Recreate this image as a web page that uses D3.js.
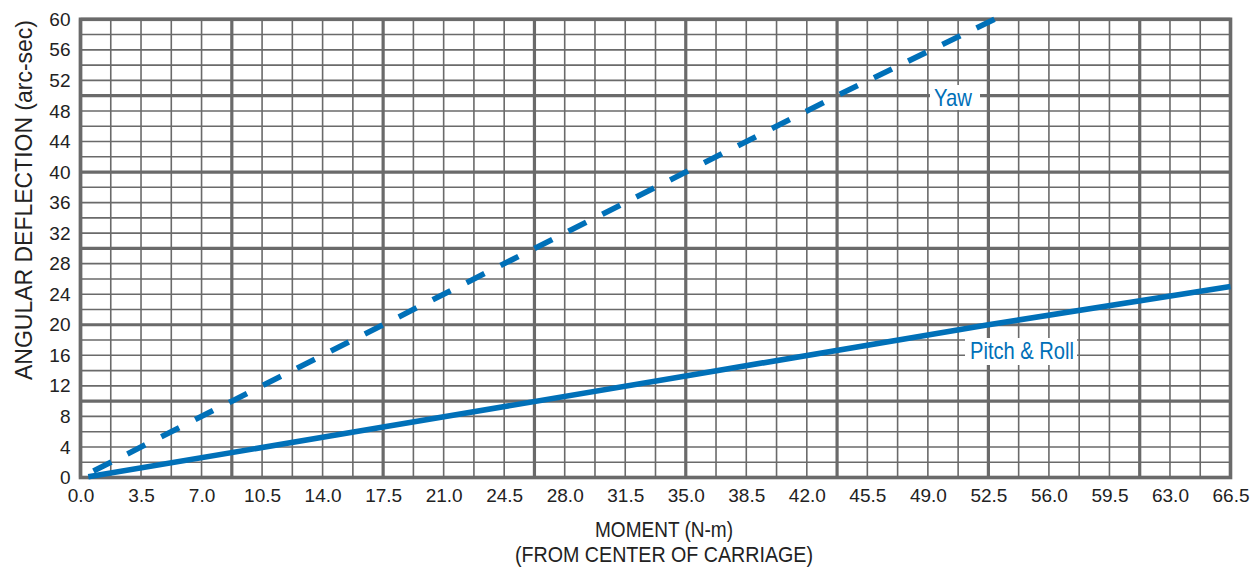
<!DOCTYPE html>
<html>
<head>
<meta charset="utf-8">
<script src="https://cdn.jsdelivr.net/npm/d3@7"></script>
<style>
  html, body { margin: 0; padding: 0; background: #fff; }
  svg { display: block; }
  .tick text { font-family: "Liberation Sans", Arial, sans-serif; font-size: 19px; fill: #222; }
  .narrow { font-family: "Liberation Sans Narrow", "Arial Narrow", "Liberation Sans", Arial, sans-serif; }
</style>
</head>
<body>
<script>
// ---- data ----
const xTickLabels = ["0.0","3.5","7.0","10.5","14.0","17.5","21.0","24.5","28.0","31.5","35.0","38.5","42.0","45.5","49.0","52.5","56.0","59.5","63.0","66.5"];
const yTickLabels = [0,4,8,12,16,20,24,28,32,36,40,44,48,52,56,60];
// moment (N-m)
const pitchRollX = [0.45, 17.5, 35.0, 52.5, 66.5];
// angular deflection (arc-sec)
const pitchRollY = [0.1, 6.6, 13.3, 20.0, 25.0];
const yawX = [0.75, 8.75, 17.5, 26.25, 35.0, 43.75, 53.2];
const yawY = [0.85, 10.0, 20.0, 30.0, 40.0, 50.0, 60.4];
const seriesNames = ["Pitch & Roll", "Yaw"];
const xTitle = ["MOMENT (N-m)", "(FROM CENTER OF CARRIAGE)"];
const yTitle = "ANGULAR DEFLECTION (arc-sec)";

(function () {
// ---- layout ----
const W = 1257, H = 577;
const pL = 80.5, pR = 1230.5, pT = 19.3, pB = 477.5;
const blue = "#0070b8";
const gridCol = "#6a6a6a";

const svg = d3.select("body").append("svg").attr("width", W).attr("height", H);

const x = d3.scaleLinear().domain([0, 66.5]).range([pL, pR]);
const y = d3.scaleLinear().domain([0, 60]).range([pB, pT]);

// grid
const g = svg.append("g");
const vLines = d3.range(0, 38 + 1).map(i => i * 1.75);
const hLines = d3.range(0, 30 + 1).map(i => i * 2);
g.selectAll("line.v").data(vLines).join("line").attr("class", "v")
  .attr("x1", d => x(d)).attr("x2", d => x(d))
  .attr("y1", pT).attr("y2", pB)
  .attr("stroke", gridCol)
  .attr("stroke-width", (d, i) => i % 5 === 0 ? 3.2 : 1.6);
g.selectAll("line.h").data(hLines).join("line").attr("class", "h")
  .attr("y1", d => y(d)).attr("y2", d => y(d))
  .attr("x1", pL).attr("x2", pR)
  .attr("stroke", gridCol)
  .attr("stroke-width", (d, i) => i % 5 === 0 ? 3.2 : 1.6);
g.append("rect")
  .attr("x", pL).attr("y", pT)
  .attr("width", pR - pL).attr("height", pB - pT)
  .attr("fill", "none").attr("stroke", gridCol).attr("stroke-width", 3.6);

// axes (labels only)
const xAxis = d3.axisBottom(x)
  .tickValues(xTickLabels.map(Number))
  .tickFormat((d, i) => xTickLabels[i])
  .tickSize(0).tickPadding(0);
svg.append("g").attr("transform", `translate(0,${pB + 11})`).call(xAxis)
  .call(s => s.select(".domain").remove())
  .selectAll("text").attr("dy", "0.71em");

const yAxis = d3.axisLeft(y)
  .tickValues(yTickLabels)
  .tickFormat(d3.format("d"))
  .tickSize(0).tickPadding(0);
svg.append("g").attr("transform", `translate(${pL - 10},0)`).call(yAxis)
  .call(s => s.select(".domain").remove());

// label backgrounds
svg.append("rect").attr("x", 930).attr("y", 85).attr("width", 50).attr("height", 25).attr("fill", "#fff");
svg.append("rect").attr("x", 965).attr("y", 338).attr("width", 112).attr("height", 27).attr("fill", "#fff");

// lines
const line = d3.line().x(d => x(d[0])).y(d => y(d[1]));
const pitch = pitchRollX.map((v, i) => [v, pitchRollY[i]]);
const yaw = yawX.map((v, i) => [v, yawY[i]]);

svg.append("path").datum(pitch).attr("d", line)
  .attr("fill", "none").attr("stroke", blue).attr("stroke-width", 5.6);
svg.append("path").datum(yaw).attr("d", line)
  .attr("fill", "none").attr("stroke", blue).attr("stroke-width", 5.6)
  .attr("stroke-dasharray", "20 18");

// series labels
svg.append("text").attr("class", "narrow").attr("x", 953).attr("y", 106)
  .attr("text-anchor", "middle").attr("font-size", 24).attr("fill", blue)
  .attr("textLength", 38).attr("lengthAdjust", "spacingAndGlyphs")
  .text(seriesNames[1]);
svg.append("text").attr("class", "narrow").attr("x", 1022).attr("y", 359)
  .attr("text-anchor", "middle").attr("font-size", 24).attr("fill", blue)
  .attr("textLength", 104).attr("lengthAdjust", "spacingAndGlyphs")
  .text(seriesNames[0]);

// axis titles
svg.append("text").attr("class", "narrow").attr("x", 664).attr("y", 537)
  .attr("text-anchor", "middle").attr("font-size", 22).attr("fill", "#222")
  .attr("textLength", 138).attr("lengthAdjust", "spacingAndGlyphs")
  .text(xTitle[0]);
svg.append("text").attr("class", "narrow").attr("x", 664).attr("y", 562)
  .attr("text-anchor", "middle").attr("font-size", 22).attr("fill", "#222")
  .attr("textLength", 298).attr("lengthAdjust", "spacingAndGlyphs")
  .text(xTitle[1]);
svg.append("text").attr("class", "narrow")
  .attr("transform", "translate(32,200) rotate(-90)")
  .attr("text-anchor", "middle").attr("font-size", 24).attr("fill", "#222")
  .attr("textLength", 360).attr("lengthAdjust", "spacingAndGlyphs")
  .text(yTitle);
})();
</script>
</body>
</html>
